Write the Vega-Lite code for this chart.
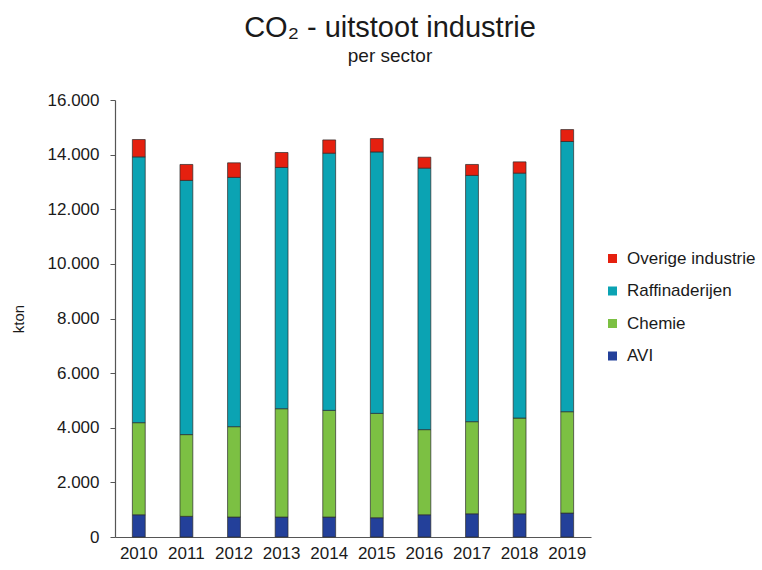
{
  "$schema": "https://vega.github.io/schema/vega-lite/v6.json",
  "autosize": "none",
  "width": 476,
  "height": 437,
  "padding": {"left": 115, "top": 100, "right": 171, "bottom": 33},
  "background": "white",
  "title": {
    "text": "CO₂ - uitstoot industrie",
    "subtitle": "per sector",
    "anchor": "middle",
    "frame": "group",
    "dx": 37,
    "offset": 25,
    "font": "Liberation Sans",
    "fontSize": 29,
    "fontWeight": "normal",
    "color": "#1a1a1a",
    "subtitleFont": "Liberation Sans",
    "subtitleFontSize": 19,
    "subtitleColor": "#1a1a1a",
    "subtitlePadding": 4
  },
  "data": {
    "values": [
      {"jaar": "2010", "sector": "AVI", "kton": 814},
      {"jaar": "2010", "sector": "Chemie", "kton": 3372},
      {"jaar": "2010", "sector": "Raffinaderijen", "kton": 9732},
      {"jaar": "2010", "sector": "Overige industrie", "kton": 635},
      {"jaar": "2011", "sector": "AVI", "kton": 756},
      {"jaar": "2011", "sector": "Chemie", "kton": 2993},
      {"jaar": "2011", "sector": "Raffinaderijen", "kton": 9307},
      {"jaar": "2011", "sector": "Overige industrie", "kton": 584},
      {"jaar": "2012", "sector": "AVI", "kton": 730},
      {"jaar": "2012", "sector": "Chemie", "kton": 3310},
      {"jaar": "2012", "sector": "Raffinaderijen", "kton": 9126},
      {"jaar": "2012", "sector": "Overige industrie", "kton": 534},
      {"jaar": "2013", "sector": "AVI", "kton": 730},
      {"jaar": "2013", "sector": "Chemie", "kton": 3967},
      {"jaar": "2013", "sector": "Raffinaderijen", "kton": 8833},
      {"jaar": "2013", "sector": "Overige industrie", "kton": 548},
      {"jaar": "2014", "sector": "AVI", "kton": 730},
      {"jaar": "2014", "sector": "Chemie", "kton": 3906},
      {"jaar": "2014", "sector": "Raffinaderijen", "kton": 9416},
      {"jaar": "2014", "sector": "Overige industrie", "kton": 486},
      {"jaar": "2015", "sector": "AVI", "kton": 705},
      {"jaar": "2015", "sector": "Chemie", "kton": 3821},
      {"jaar": "2015", "sector": "Raffinaderijen", "kton": 9574},
      {"jaar": "2015", "sector": "Overige industrie", "kton": 488},
      {"jaar": "2016", "sector": "AVI", "kton": 814},
      {"jaar": "2016", "sector": "Chemie", "kton": 3117},
      {"jaar": "2016", "sector": "Raffinaderijen", "kton": 9574},
      {"jaar": "2016", "sector": "Overige industrie", "kton": 401},
      {"jaar": "2017", "sector": "AVI", "kton": 850},
      {"jaar": "2017", "sector": "Chemie", "kton": 3373},
      {"jaar": "2017", "sector": "Raffinaderijen", "kton": 9016},
      {"jaar": "2017", "sector": "Overige industrie", "kton": 401},
      {"jaar": "2018", "sector": "AVI", "kton": 850},
      {"jaar": "2018", "sector": "Chemie", "kton": 3505},
      {"jaar": "2018", "sector": "Raffinaderijen", "kton": 8967},
      {"jaar": "2018", "sector": "Overige industrie", "kton": 413},
      {"jaar": "2019", "sector": "AVI", "kton": 876},
      {"jaar": "2019", "sector": "Chemie", "kton": 3712},
      {"jaar": "2019", "sector": "Raffinaderijen", "kton": 9892},
      {"jaar": "2019", "sector": "Overige industrie", "kton": 438}
    ]
  },
  "transform": [
    {"calculate": "indexof(['AVI', 'Chemie', 'Raffinaderijen', 'Overige industrie'], datum.sector)", "as": "stapelvolgorde"}
  ],
  "mark": {"type": "bar", "stroke": "#2b2b2b", "strokeWidth": 0.7},
  "encoding": {
    "x": {
      "field": "jaar",
      "type": "ordinal",
      "title": null,
      "scale": {"paddingInner": 0.73, "paddingOuter": 0.365},
      "axis": {
        "labelAngle": 0,
        "ticks": false,
        "labelPadding": 8,
        "labelFont": "Liberation Sans",
        "labelFontSize": 17,
        "labelColor": "#1a1a1a",
        "domainColor": "#555555",
        "domainWidth": 1.2
      }
    },
    "y": {
      "field": "kton",
      "type": "quantitative",
      "stack": "zero",
      "title": "kton",
      "scale": {"domain": [0, 16000], "nice": false},
      "axis": {
        "values": [0, 2000, 4000, 6000, 8000, 10000, 12000, 14000, 16000],
        "labelExpr": "replace(format(datum.value, ','), ',', '.')",
        "grid": false,
        "tickSize": 5,
        "tickColor": "#555555",
        "domainColor": "#555555",
        "domainWidth": 1.2,
        "labelPadding": 11,
        "labelFont": "Liberation Sans",
        "labelFontSize": 17,
        "labelColor": "#1a1a1a",
        "titleFont": "Liberation Sans",
        "titleFontSize": 15,
        "titleFontWeight": "normal",
        "titleColor": "#1a1a1a",
        "titlePadding": 21
      }
    },
    "order": {"field": "stapelvolgorde", "type": "quantitative", "sort": "ascending"},
    "color": {
      "field": "sector",
      "type": "nominal",
      "scale": {
        "domain": ["Overige industrie", "Raffinaderijen", "Chemie", "AVI"],
        "range": ["#e5200f", "#0ba3b3", "#7cc043", "#23409a"]
      },
      "legend": {
        "title": null,
        "orient": "none",
        "legendX": 489,
        "legendY": 150,
        "padding": 0,
        "symbolType": "square",
        "symbolSize": 81,
        "symbolStrokeWidth": 0,
        "labelFont": "Liberation Sans",
        "labelFontSize": 17,
        "labelColor": "#1a1a1a",
        "labelOffset": 6,
        "rowPadding": 14.5
      }
    }
  },
  "config": {"view": {"stroke": null}}
}
